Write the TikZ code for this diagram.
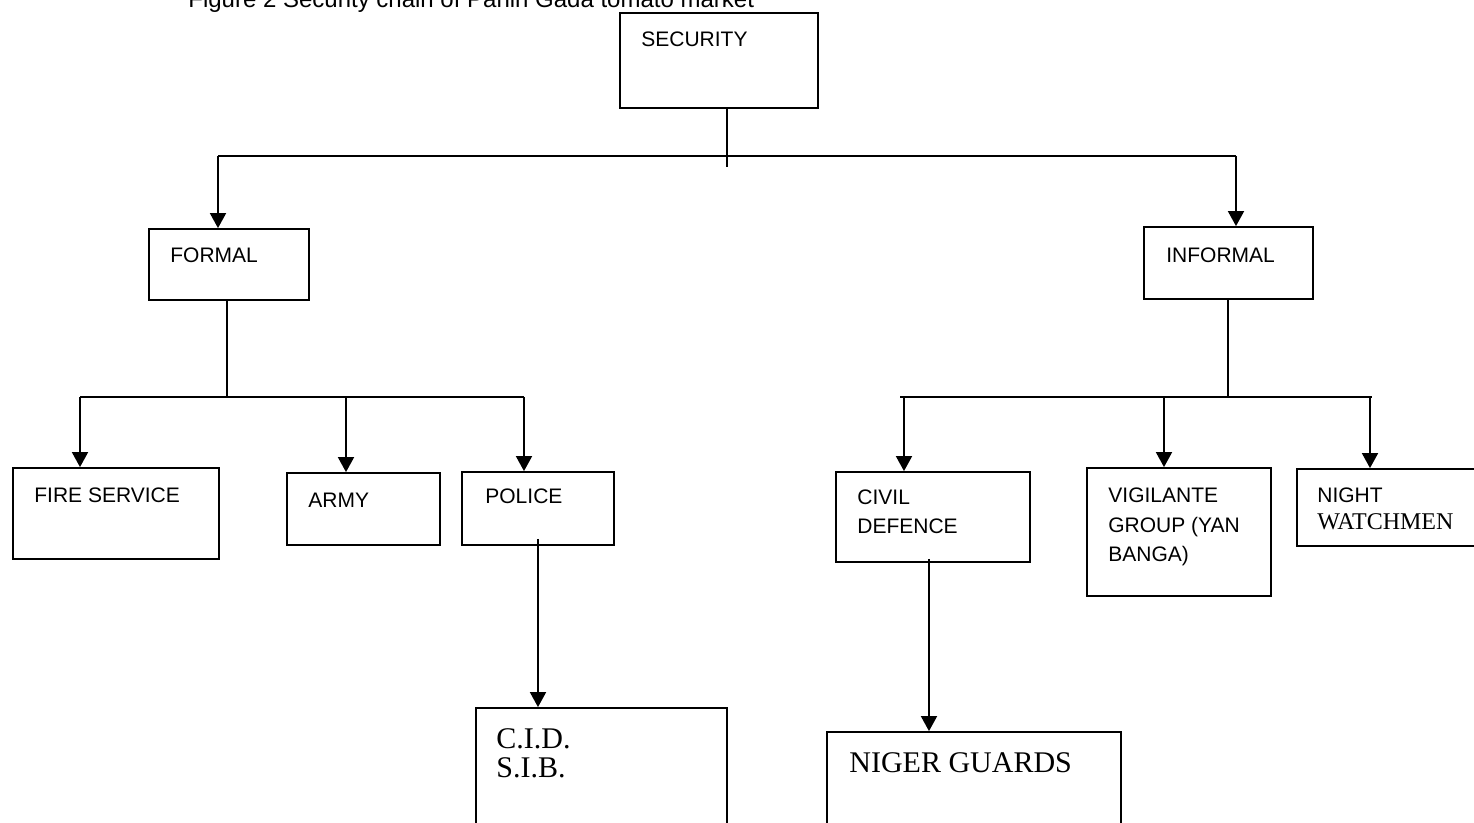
\documentclass[tikz,border=0pt]{standalone}
\usepackage{fontspec}
\setmainfont{Liberation Serif}
\newfontfamily\arialfont{Liberation Sans}
\usetikzlibrary{arrows.meta,positioning,fit,calc}
\tikzset{
	box/.style={draw, line width=0.9pt, inner sep=0pt},
	lbl/.style={anchor=base west, inner sep=0pt, font=\arialfont\fontsize{10.5}{12}\selectfont},
	tlbl/.style={anchor=base west, inner sep=0pt, font=\fontsize{15}{18}\selectfont},
	edge/.style={line width=0.9pt},
	diredge/.style={-{Triangle[width=8pt,length=7.5pt]}, line width=0.9pt}
}

\begin{document}
\begin{tikzpicture}[x=0.5pt,y=-0.5pt]
	\useasboundingbox (0,0) rectangle (1474,823);

	%%title
	\node[anchor=base west, inner sep=0pt, font=\arialfont\fontsize{12}{14}\selectfont] (title) at (188,8) {Figure 2 Security chain of Panin Gada tomato market};

	%%top box
	\node[box, fit={(620,13) (818,108)}] (security) {};
	\node[lbl] (securitytxt) at (641,47) {SECURITY};

	%%formal / informal
	\node[box, fit={(149,229) (309,300)}] (formal) {};
	\node[lbl] (formaltxt) at (170,263) {FORMAL};
	\node[box, fit={(1144,227) (1313,299)}] (informal) {};
	\node[lbl] (informaltxt) at (1166,263) {INFORMAL};

	%%formal branches
	\node[box, fit={(13,468) (219,559)}] (fire) {};
	\node[lbl] (firetxt) at (34,503) {FIRE SERVICE};
	\node[box, fit={(287,473) (440,545)}] (army) {};
	\node[lbl] (armytxt) at (308,508) {ARMY};
	\node[box, fit={(462,472) (614,545)}] (police) {};
	\node[lbl] (policetxt) at (485,504) {POLICE};
	\node[box, fit={(476,708) (727,850)}] (cid) {};
	\node[tlbl] (cidtxt) at (496,748) {C.I.D.};
	\node[tlbl] (sibtxt) at (496,777) {S.I.B.};

	%%informal branches
	\node[box, fit={(836,472) (1030,562)}] (civil) {};
	\node[lbl] (civiltxt) at (857,505) {CIVIL};
	\node[lbl] (defencetxt) at (857,534) {DEFENCE};
	\node[box, fit={(1087,468) (1271,596)}] (vigil) {};
	\node[lbl] (vigiltxt) at (1108,503) {VIGILANTE};
	\node[lbl] (grouptxt) at (1108,533) {GROUP (YAN};
	\node[lbl] (bangatxt) at (1108,562) {BANGA)};
	\node[box, fit={(1297,469) (1480,546)}] (night) {};
	\node[lbl] (nighttxt) at (1317,503) {NIGHT};
	\node[tlbl, font=\fontsize{12}{14}\selectfont] (watchtxt) at (1317,530) {WATCHMEN};
	\node[box, fit={(827,732) (1121,850)}] (niger) {};
	\node[tlbl] (nigertxt) at (849,772) {NIGER GUARDS};

	%%junction points
	\coordinate (secdrop) at (727,167);
	\coordinate (busl) at (218,156);
	\coordinate (busr) at (1236,156);
	\coordinate (fdrop) at (227,397);
	\coordinate (fbusl) at (80,397);
	\coordinate (fbusm) at (346,397);
	\coordinate (fbusr) at (524,397);
	\coordinate (idrop) at (1228,397);
	\coordinate (ibusl) at (904,397);
	\coordinate (ibusm) at (1164,397);
	\coordinate (ibusr) at (1370,397);
	\coordinate (pdrop) at (538,539);
	\coordinate (cdrop) at (929,559);

	%%security to formal, informal
	\draw[edge] (security.south -| secdrop) -- (secdrop);
	\draw[edge] (busl) -- (busr);
	\draw[diredge] (busl) -- (busl |- formal.north);
	\draw[diredge] (busr) -- (busr |- informal.north);

	%%formal to fire, army, police
	\draw[edge] (formal.south -| fdrop) -- (fdrop);
	\draw[edge] (fbusl) -- (fbusr);
	\draw[diredge] (fbusl) -- (fbusl |- fire.north);
	\draw[diredge] (fbusm) -- (fbusm |- army.north);
	\draw[diredge] (fbusr) -- (fbusr |- police.north);
	\draw[diredge] (pdrop) -- (pdrop |- cid.north);

	%%informal to civil, vigilante, night
	\draw[edge] (informal.south -| idrop) -- (idrop);
	\draw[edge] ($(ibusl)+(-4,0)$) -- ($(ibusr)+(2,0)$);
	\draw[diredge] (ibusl) -- (ibusl |- civil.north);
	\draw[diredge] (ibusm) -- (ibusm |- vigil.north);
	\draw[diredge] (ibusr) -- (ibusr |- night.north);
	\draw[diredge] (cdrop) -- (cdrop |- niger.north);
\end{tikzpicture}
\end{document}
